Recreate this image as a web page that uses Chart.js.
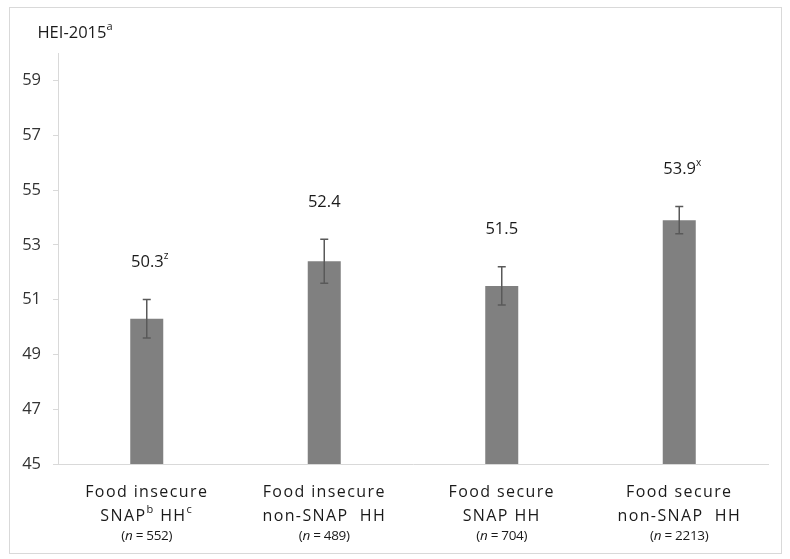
<!DOCTYPE html>
<html>
<head>
<meta charset="utf-8">
<script src="https://cdn.jsdelivr.net/npm/chart.js@4/dist/chart.umd.min.js"></script>
<style>
  html, body { margin: 0; padding: 0; background: #fff; }
  #wrap { width: 790px; height: 559px; }
</style>
</head>
<body>
<div id="wrap"><canvas id="myChart" width="790" height="559"></canvas></div>
<script>
// data
const categories = ["Food insecure SNAP HH", "Food insecure non-SNAP HH", "Food secure SNAP HH", "Food secure non-SNAP HH"];
const labelTop = ["Food insecure", "Food insecure", "Food secure", "Food secure"];
// second line of each label, pieces marked 1 are superscripts
const labelBottom = [
  [["SNAP", 0], ["b", 1], [" HH", 0], ["c", 1]],
  [["non-SNAP  HH", 0]],
  [["SNAP HH", 0]],
  [["non-SNAP  HH", 0]]
];
const sampleN = [552, 489, 704, 2213];
const hei = [50.3, 52.4, 51.5, 53.9];
const errLow = [49.6, 51.6, 50.8, 53.4];
const errHigh = [51.0, 53.2, 52.2, 54.4];
const sigMarks = ["z", "", "", "x"];
const yTicks = [45, 47, 49, 51, 53, 55, 57, 59];

const FONT = "'Open Sans', sans-serif";
const TEXT = "#1a1a1a";

// draws a row of text pieces centred on cx; piece = [text, size, dy, italic]
function drawPieces(ctx, pieces, cx, y, spacing) {
  ctx.letterSpacing = spacing || "0px";
  let total = 0;
  pieces.forEach(p => {
    ctx.font = (p[3] ? "italic " : "") + p[1] + "px " + FONT;
    p.w = ctx.measureText(p[0]).width;
    total += p.w;
  });
  let x = cx - total / 2;
  ctx.textAlign = "left";
  pieces.forEach(p => {
    ctx.font = (p[3] ? "italic " : "") + p[1] + "px " + FONT;
    ctx.fillText(p[0], x, y + p[2]);
    x += p.w;
  });
  ctx.letterSpacing = "0px";
}

const framePlugin = {
  id: "frame",
  beforeDraw(chart) {
    const ctx = chart.ctx;
    ctx.save();
    ctx.fillStyle = "#fff";
    ctx.fillRect(0, 0, chart.width, chart.height);
    ctx.strokeStyle = "#d9d9d9";
    ctx.lineWidth = 1;
    ctx.strokeRect(9.5, 7.5, 772, 546);
    ctx.restore();
  },
  afterDraw(chart) {
    const ctx = chart.ctx;
    ctx.save();
    ctx.fillStyle = TEXT;
    ctx.textBaseline = "alphabetic";
    drawPieces(ctx, [["HEI-2015", 16.5, 0], ["a", 11, -8]], 75, 38);
    ctx.restore();
  }
};

const errorBarPlugin = {
  id: "errorBars",
  afterDatasetsDraw(chart) {
    const ctx = chart.ctx;
    const y = chart.scales.y;
    const meta = chart.getDatasetMeta(0);
    ctx.save();
    ctx.strokeStyle = "#595959";
    ctx.lineWidth = 1.5;
    meta.data.forEach((bar, i) => {
      const top = y.getPixelForValue(errHigh[i]);
      const bot = y.getPixelForValue(errLow[i]);
      ctx.beginPath();
      ctx.moveTo(bar.x, top); ctx.lineTo(bar.x, bot);
      ctx.moveTo(bar.x - 4, top); ctx.lineTo(bar.x + 4, top);
      ctx.moveTo(bar.x - 4, bot); ctx.lineTo(bar.x + 4, bot);
      ctx.stroke();
      // value label above the error bar
      ctx.fillStyle = TEXT;
      ctx.textBaseline = "middle";
      const pieces = [[hei[i].toFixed(1), 16.5, 0]];
      if (sigMarks[i]) pieces.push([sigMarks[i], 10, -6]);
      drawPieces(ctx, pieces, bar.x + (sigMarks[i] ? 3 : 0), top - 37);
    });
    ctx.restore();
  }
};

const xLabelPlugin = {
  id: "xLabels",
  afterDraw(chart) {
    const ctx = chart.ctx;
    const x = chart.scales.x;
    ctx.save();
    ctx.fillStyle = TEXT;
    ctx.textBaseline = "alphabetic";
    categories.forEach((c, i) => {
      const cx = x.getPixelForValue(i);
      drawPieces(ctx, [[labelTop[i], 16, 0]], cx, 497, "1.4px");
      drawPieces(ctx, labelBottom[i].map(p => p[1] ? [p[0], 11, -8] : [p[0], 16, 0]), cx, 521, "1.4px");
      drawPieces(ctx, [["(", 13.5, 0], ["n", 13.5, 0, true], [" = " + sampleN[i] + ")", 13.5, 0]], cx, 540, "-0.3px");
    });
    ctx.restore();
  }
};

const ctx = document.getElementById("myChart").getContext("2d");
new Chart(ctx, {
  type: "bar",
  data: {
    labels: categories,
    datasets: [{
      label: "HEI-2015",
      data: hei,
      backgroundColor: "#808080",
      borderWidth: 0,
      categoryPercentage: 1,
      barPercentage: 0.186
    }]
  },
  options: {
    responsive: false,
    animation: false,
    layout: { padding: { left: 10, top: 53, right: 22, bottom: 95 } },
    plugins: { legend: { display: false }, tooltip: { enabled: false } },
    scales: {
      x: {
        ticks: { display: false },
        grid: { display: false },
        border: { color: "#d9d9d9", width: 1 },
        afterFit(scale) { scale.height = 0; }
      },
      y: {
        min: 45,
        max: 60,
        afterBuildTicks(scale) { scale.ticks = yTicks.map(v => ({ value: v })); },
        afterFit(scale) { scale.width = 48; },
        ticks: { font: { family: "'Open Sans'", size: 16.5 }, color: "#333333", padding: 12 },
        grid: { drawOnChartArea: false, drawTicks: true, tickLength: 5, color: "#d9d9d9" },
        border: { color: "#d9d9d9", width: 1 }
      }
    }
  },
  plugins: [framePlugin, errorBarPlugin, xLabelPlugin]
});
</script>
</body>
</html>
